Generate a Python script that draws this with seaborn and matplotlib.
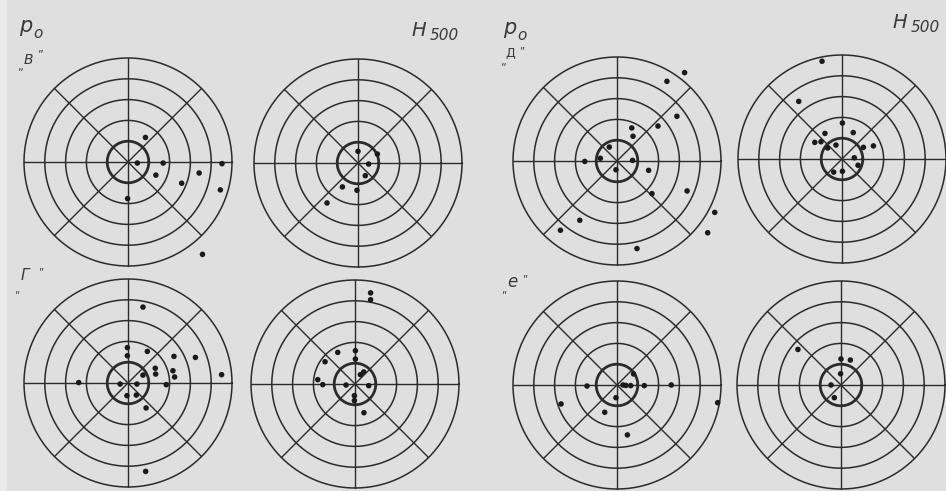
import numpy as np
import matplotlib
matplotlib.use("Agg")
import matplotlib.pyplot as plt
from matplotlib.patches import Rectangle
import seaborn as sns

W, H = 946, 491

# ring radii and spoke directions of every target diagram
RINGS = [1, 2, 3, 4, 5]
SPOKES_DEG = [0, 45, 90, 135]

# offsets of the points (x: east-west, y: north-south), in ring units
v_p0_x = [0.84, 0.45, 1.69, 1.34, 3.42, 2.58, 4.52, 4.44, -0.02, 3.58]
v_p0_y = [1.18, -0.05, -0.05, -0.63, -0.53, -1.02, -0.08, -1.34, -1.76, -4.44]

v_h500_x = [0.00, 0.93, 0.51, 0.35, -0.75, -0.05, -1.49]
v_h500_y = [0.56, 0.43, -0.05, -0.61, -1.15, -1.31, -1.92]

d_p0_x = [3.25, 2.40, 2.88, 1.97, 0.71, 0.77, -0.37, -0.80, -1.55, 0.75,
          -0.05, 1.52, 1.68, 3.37, 4.70, 4.36, -1.79, -2.72, 0.96]
d_p0_y = [4.25, 3.83, 2.15, 1.68, 1.59, 1.19, 0.67, 0.13, -0.02, 0.03,
          -0.42, -0.45, -1.57, -1.44, -2.47, -3.45, -2.85, -3.33, -4.21]

d_h500_x = [-0.96, -2.08, 0.02, 0.54, -0.82, -1.31, -1.01, -0.29, -0.69,
            1.03, 1.51, 0.59, 0.77, -0.40, 0.02]
d_h500_y = [4.70, 2.77, 1.73, 1.27, 1.23, 0.80, 0.83, 0.67, 0.53,
            0.56, 0.63, 0.06, -0.30, -0.63, -0.59]

g_p0_x = [0.72, -0.03, -0.03, 0.93, 2.21, 3.24, 1.31, 1.33, 0.72, 2.16,
          2.24, 4.50, -2.37, -0.38, 0.43, 1.84, -0.05, 0.40, 0.87, 0.85]
g_p0_y = [3.65, 1.70, 1.31, 1.52, 1.28, 1.23, 0.71, 0.43, 0.38, 0.59,
          0.29, 0.40, 0.02, -0.05, -0.05, -0.08, -0.61, -0.58, -1.20, -4.25]

g_h500_x = [0.75, 0.75, -0.83, 0.02, 0.02, -1.44, 0.42, 0.26, -1.79, -1.55,
            -0.43, 0.66, -0.03, -0.03, 0.43]
g_h500_y = [4.38, 4.05, 1.52, 1.60, 1.20, 1.07, 0.58, 0.45, 0.21, -0.03,
            -0.05, -0.08, -0.56, -0.80, -1.38]

e_p0_x = [0.80, -1.44, 0.29, 0.43, 0.66, 1.31, 2.61, -0.05, -2.69, -0.59, 4.84, 0.50]
e_p0_y = [0.53, -0.05, 0.00, -0.02, -0.03, -0.03, 0.00, -0.61, -0.91, -1.31, -0.85, -2.40]

e_h500_x = [-2.07, 0.00, 0.45, -0.02, -0.48, -0.32]
e_h500_y = [1.71, 1.25, 1.20, 0.54, 0.00, -0.61]

SERIES = [
    (v_p0_x, v_p0_y), (v_h500_x, v_h500_y), (d_p0_x, d_p0_y), (d_h500_x, d_h500_y),
    (g_p0_x, g_p0_y), (g_h500_x, g_h500_y), (e_p0_x, e_p0_y), (e_h500_x, e_h500_y),
]

# diagram centres on the sheet (pixels)
CENTRES = [(128, 162), (358, 163), (617, 161), (842, 159),
           (128, 383), (355, 384), (617, 385), (841, 385)]
UNIT_PX = 20.8
HALF = 6.0

BG = "#e0dfe0"
INK = "#2b2b2b"

sns.set_theme(style="white")
plt.rcParams["font.family"] = ["DejaVu Sans"]

fig = plt.figure(figsize=(W / 100, H / 100), dpi=100, facecolor=BG)
# paler margin strip along the left edge of the sheet
fig.patches.append(Rectangle((0, 0), 7 / W, 1, transform=fig.transFigure,
                             facecolor="#ebeaeb", edgecolor="none", zorder=0))

theta = np.linspace(0, 2 * np.pi, 400)
for (xs, ys), (cx, cy) in zip(SERIES, CENTRES):
    half_px = HALF * UNIT_PX
    ax = fig.add_axes([(cx - half_px) / W, (H - cy - half_px) / H,
                       2 * half_px / W, 2 * half_px / H])
    ax.set_facecolor("none")
    for r in RINGS:
        ax.plot(r * np.cos(theta), r * np.sin(theta), color=INK,
                lw=2.0 if r == RINGS[0] else 1.1, solid_capstyle="round")
    rmax = RINGS[-1]
    for a in SPOKES_DEG:
        t = np.deg2rad(a)
        ax.plot([-rmax * np.cos(t), rmax * np.cos(t)],
                [-rmax * np.sin(t), rmax * np.sin(t)], color=INK, lw=1.0)
    sns.scatterplot(x=xs, y=ys, ax=ax, s=16, color="#1a1a1a",
                    edgecolor="none", linewidth=0, legend=False,
                    clip_on=False, zorder=4)
    ax.set_xlim(-HALF, HALF)
    ax.set_ylim(-HALF, HALF)
    ax.set_axis_off()


def put(x, y, s, size, **kw):
    fig.text(x / W, 1 - y / H, s, fontsize=size, color="#3a3a3a",
             ha="center", va="center", **kw)


# p0 / H500 headings
for px, py in [(26, 26), (510, 28)]:
    put(px, py, "p", 15, style="italic", fontweight="light")
    put(px + 12, py + 7, "o", 11, style="italic", fontweight="light")
for hx, hy in [(419, 31), (900, 23)]:
    put(hx, hy, "H", 14, style="italic", fontweight="light")
    put(hx + 25, hy + 4, "500", 11, style="italic", fontweight="light")

# panel letters in quotes
put(20, 67, "„", 8)
put(28, 60, "В", 10, style="italic")
put(40, 54, "”", 8)

put(503, 62, "„", 8)
put(510, 53, "Д", 9)
put(522, 51, "”", 7)

put(17, 290, "„", 7)
put(25, 276, "Г", 11, style="italic")
put(41, 272, "”", 7)

put(504, 290, "„", 7)
put(512, 282, "e", 12, style="italic")
put(525, 279, "”", 7)

fig.savefig("out.png", dpi=100, facecolor=BG)
